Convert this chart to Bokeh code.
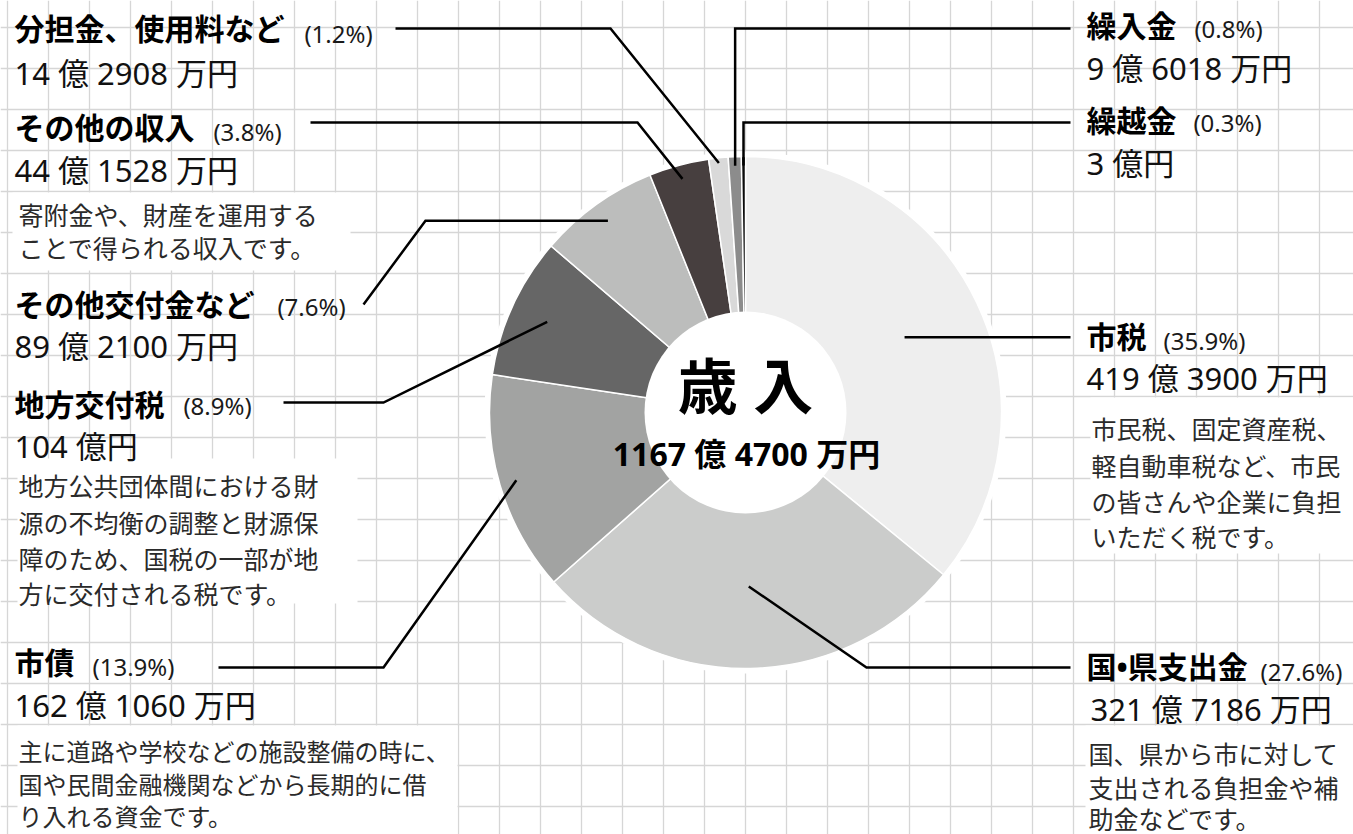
import math
from bokeh.plotting import figure
from bokeh.models import Range1d, Grid, FixedTicker, ColumnDataSource
from bokeh.embed import file_html
from bokeh.resources import INLINE
from bokeh.core.properties import value

W, H = 1353, 834

# ---------------- data ----------------
categories = ["市税", "国•県支出金", "市債", "地方交付税", "その他交付金など",
              "その他の収入", "分担金、使用料など", "繰入金", "繰越金"]
# amounts in 万円
amounts_man = [4193900, 3217186, 1621060, 1040000, 892100, 441528, 142908, 96018, 30000]
colors = ["#eeeeee", "#cbcccb", "#a2a3a2", "#666666", "#bcbdbc",
          "#473f3f", "#d9d9d9", "#8c8c8c", "#0a0a0a"]
center_title = "歳 入"

descriptions = {
    "その他の収入": ["寄附金や、財産を運用する", "ことで得られる収入です。"],
    "地方交付税": ["地方公共団体間における財", "源の不均衡の調整と財源保",
                "障のため、国税の一部が地", "方に交付される税です。"],
    "市債": ["主に道路や学校などの施設整備の時に、", "国や民間金融機関などから長期的に借",
           "り入れる資金です。"],
    "市税": ["市民税、固定資産税、", "軽自動車税など、市民", "の皆さんや企業に負担",
           "いただく税です。"],
    "国•県支出金": ["国、県から市に対して", "支出される負担金や補", "助金などです。"],
}

total = sum(amounts_man)


def fmt_amount(v):
    oku, man = divmod(v, 10000)
    return f"{oku} 億 {man} 万円" if man else f"{oku} 億円"


amount_labels = [fmt_amount(v) for v in amounts_man]
pct_labels = [f"({v / total * 100:.1f}%)" for v in amounts_man]
total_label = fmt_amount(total)

# ---------------- layout (pixel coords from top) ----------------
CX, CY = 745, 412
R_OUT, R_IN, R_BACK = 256, 101, 261


def Y(py):
    return H - py


layout = {
    "市税": dict(t=(1086, 336), p=(1204, 340), a=(1086, 377), r=176, kind="h", outer=1070),
    "国•県支出金": dict(t=(1086, 666), p=(1301, 671), a=(1090, 708), r=174, kind="d",
                    elbow=(866, 667), outer=(1070, 667)),
    "市債": dict(t=(14, 662), p=(133, 666), a=(14, 704), r=239, kind="d",
               elbow=(383, 667), outer=(218, 667)),
    "地方交付税": dict(t=(14, 404), p=(217, 405), a=(14, 445), r=218, kind="d",
                  elbow=(383, 402), outer=(283, 402)),
    "その他交付金など": dict(t=(14, 304), p=(311, 306), a=(14, 345), r=236, kind="hy",
                     elbow_x=425, outer=(363, 304)),
    "その他の収入": dict(t=(14, 127), p=(247, 131), a=(14, 169), r=242, kind="d",
                   elbow=(637, 122), outer=(310, 122)),
    "分担金、使用料など": dict(t=(14, 28), p=(338, 33), a=(14, 72), r=251, kind="d",
                      elbow=(610, 28), outer=(395, 28)),
    "繰入金": dict(t=(1086, 25), p=(1228, 28), a=(1086, 67), r=247, kind="v",
                elbow_y=28, outer=1070),
    "繰越金": dict(t=(1086, 120), p=(1227, 122), a=(1086, 162), r=247, kind="v",
                elbow_y=122, outer=1070),
}

desc_layout = {
    "その他の収入": dict(x=18, ys=[213, 246], size="25px", box=(12, 350, 192, 270)),
    "地方交付税": dict(x=18, ys=[484, 521, 557, 592], size="25px", box=(17, 357, 458, 603)),
    "市債": dict(x=18, ys=[750, 783, 815], size="24px", box=(17, 457, 725, 834)),
    "市税": dict(x=1091, ys=[427, 464, 500, 535], size="25px", box=(1090, 1353, 397, 553)),
    "国•県支出金": dict(x=1088, ys=[752, 786, 817], size="25px", box=(1085, 1353, 725, 834)),
}

# ---------------- figure ----------------
p = figure(width=W, height=H, x_range=Range1d(0, W), y_range=Range1d(0, H),
           x_axis_type=None, y_axis_type=None, toolbar_location=None,
           output_backend="svg", min_border=0, outline_line_color=None,
           background_fill_color="white", border_fill_color="white")

grid_x = [7.3 + 41 * k for k in range(0, 34)]
grid_y = [Y(27.3 + 41 * k) for k in range(-1, 21)]
p.add_layout(Grid(dimension=0, ticker=FixedTicker(ticks=grid_x),
                  grid_line_color="#d6d6d6", grid_line_width=1.3))
p.add_layout(Grid(dimension=1, ticker=FixedTicker(ticks=grid_y),
                  grid_line_color="#d6d6d6", grid_line_width=1.3))

# description white boxes
bl, br, bt, bb = [], [], [], []
for k, d in desc_layout.items():
    l, r, t, b = d["box"]
    bl.append(l); br.append(r); bt.append(Y(t)); bb.append(Y(b))
p.quad(left=bl, right=br, top=bt, bottom=bb, fill_color="white", line_color=None)

# pie backdrop
p.circle(x=[CX], y=[Y(CY)], radius=R_BACK, fill_color="white", line_color=None)

# wedges
starts, ends, mids = [], [], []
cum = 0
for v in amounts_man:
    f0 = cum / total
    cum += v
    f1 = cum / total
    starts.append(math.pi / 2 - 2 * math.pi * f0)
    ends.append(math.pi / 2 - 2 * math.pi * f1)
    mids.append(2 * math.pi * (f0 + f1) / 2)  # clockwise from top

src = ColumnDataSource(dict(x=[CX] * len(amounts_man), y=[Y(CY)] * len(amounts_man),
                            s=starts, e=ends, c=colors))
p.wedge(x="x", y="y", radius=R_OUT, start_angle="s", end_angle="e", direction="clock",
        fill_color="c", line_color="white", line_width=1.5, source=src)
p.circle(x=[CX], y=[Y(CY)], radius=R_IN, fill_color="white", line_color=None)

# leader lines
lxs, lys = [], []
for cat, th in zip(categories, mids):
    L = layout[cat]
    ix = CX + L["r"] * math.sin(th)
    iy = CY - L["r"] * math.cos(th)
    if L["kind"] == "h":
        pts = [(L["outer"], iy), (ix, iy)]
    elif L["kind"] == "d":
        pts = [L["outer"], L["elbow"], (ix, iy)]
    elif L["kind"] == "hy":
        pts = [L["outer"], (L["elbow_x"], iy), (ix, iy)]
    else:  # vertical last segment
        pts = [(L["outer"], L["elbow_y"]), (ix, L["elbow_y"]), (ix, iy)]
    lxs.append([q[0] for q in pts])
    lys.append([Y(q[1]) for q in pts])
p.multi_line(xs=lxs, ys=lys, line_color="black", line_width=2.5, line_join="miter")

FONT = value("'Noto Sans', 'Noto Sans CJK JP'")
CJK = value("'Noto Sans CJK JP'")

# titles
p.text(x=[layout[c]["t"][0] for c in categories], y=[Y(layout[c]["t"][1]) for c in categories],
       text=categories, text_font=FONT, text_font_size="30px", text_font_style="bold",
       text_baseline="middle", text_align="left", text_color="#000000")
# percents
p.text(x=[layout[c]["p"][0] for c in categories], y=[Y(layout[c]["p"][1]) for c in categories],
       text=pct_labels, text_font=FONT, text_font_size="24px",
       text_baseline="middle", text_align="center", text_color="#1a1a1a")
# amounts
p.text(x=[layout[c]["a"][0] for c in categories], y=[Y(layout[c]["a"][1]) for c in categories],
       text=amount_labels, text_font=FONT, text_font_size="31px",
       text_baseline="middle", text_align="left", text_color="#111111")

# descriptions
for cat, lines in descriptions.items():
    d = desc_layout[cat]
    p.text(x=[d["x"]] * len(lines), y=[Y(yy) for yy in d["ys"]], text=lines,
           text_font=CJK, text_font_size=d["size"], text_baseline="middle",
           text_align="left", text_color="#2a2a2a")

# center
p.text(x=[CX], y=[Y(385)], text=[center_title], text_font=FONT, text_font_size="60px",
       text_font_style="bold", text_baseline="middle", text_align="center", text_color="#000000")
p.text(x=[CX + 1], y=[Y(453)], text=[total_label], text_font=FONT, text_font_size="32px",
       text_font_style="bold", text_baseline="middle", text_align="center", text_color="#000000")

open("out.html", "w").write(file_html(p, INLINE))
